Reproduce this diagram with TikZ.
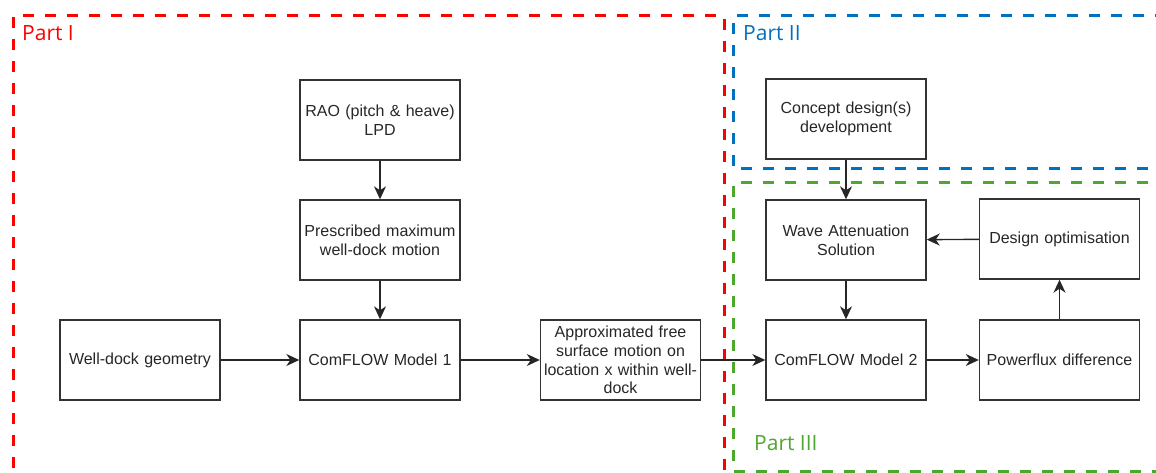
\documentclass[tikz,border=0pt]{standalone}
\usepackage{fontspec}
\setmainfont{Liberation Sans}
\newfontfamily\labelfont{Open Sans}
\usetikzlibrary{arrows.meta}
\hyphenpenalty=10000
\definecolor{partred}{HTML}{FF0000}
\definecolor{partblue}{HTML}{0070C0}
\definecolor{partgreen}{HTML}{4EA72E}
\definecolor{boxline}{HTML}{333333}
\begin{document}
\begin{tikzpicture}[x=1pt,y=-1pt,
  box/.style={draw=boxline,line width=1.4pt,minimum width=160pt,minimum height=80pt,
    inner sep=1pt,align=center,text width=158pt,font=\fontsize{16}{18.8}\selectfont,text=black!85},
  conn/.style={draw=black!85,line width=1.4pt,-{Stealth[length=13pt,width=12pt,inset=4pt]}},
  region/.style={line width=3pt,dash pattern=on 11pt off 11pt},
  partlabel/.style={anchor=north west,inner sep=0pt,font=\labelfont\fontsize{21}{25}\selectfont}]
\useasboundingbox (0,0) rectangle (1156,473);
\clip (0,0) rectangle (1156,473);
% regions
\draw[region,draw=partred] (13,490) -- (13,16) -- (724,16) -- (724,490);
\draw[region,draw=partblue] (1170,169) -- (733,169) -- (733,16) -- (1170,16);
\draw[region,draw=partgreen] (1170,183) -- (733,183) -- (733,471) -- (1170,471);
\node[partlabel,text=partred] (p1) at (22,25) {Part I};
\node[partlabel,text=partblue] (p2) at (743,25) {Part II};
\node[partlabel,text=partgreen] (p3) at (754,435) {Part III};
% boxes
\node[box] (rao) at (380,120) {RAO (pitch \& heave)\\LPD};
\node[box] (pres) at (380,240) {Prescribed maximum\\well-dock motion};
\node[box] (geo) at (140,360) {Well-dock geometry};
\node[box] (cf1) at (380,360) {ComFLOW Model 1};
\node[box] (appr) at (620.5,360) {Approximated free\\surface motion on\\location x within well-\\dock};
\node[box] (conc) at (846,119) {Concept design(s)\\development};
\node[box] (wave) at (846,240) {Wave Attenuation\\Solution};
\node[box] (cf2) at (846,360) {ComFLOW Model 2};
\node[box] (opt) at (1059.5,239) {Design optimisation};
\node[box] (pow) at (1059.5,360) {Powerflux difference};
% connectors
\draw[conn] (rao) -- (pres);
\draw[conn] (pres) -- (cf1);
\draw[conn] (geo) -- (cf1);
\draw[conn] (cf1) -- (appr);
\draw[conn] (appr) -- (cf2);
\draw[conn] (conc) -- (wave);
\draw[conn] (wave) -- (cf2);
\draw[conn] (cf2) -- (pow);
\draw[conn] (pow) -- (opt);
\draw[conn] (opt) -- (wave);
\end{tikzpicture}
\end{document}
